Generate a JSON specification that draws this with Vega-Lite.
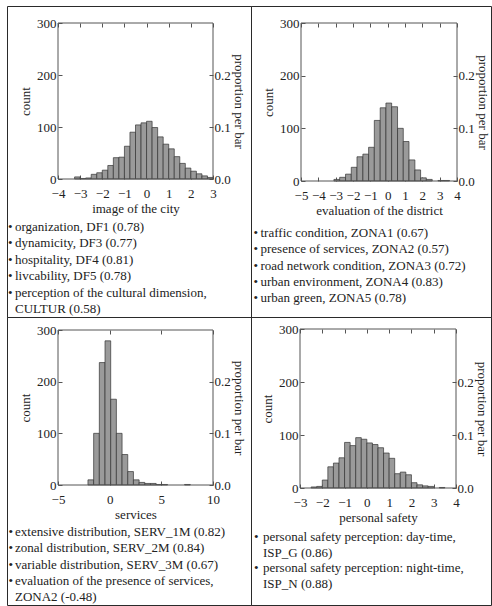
{
  "$schema": "https://vega.github.io/schema/vega-lite/v6.json",
  "background": "white",
  "padding": {"left": 6, "top": 5, "right": 0, "bottom": 0},
  "columns": 2,
  "spacing": 0,
  "bounds": "flush",
  "config": {
    "view": {"stroke": "#2a2a2a", "strokeWidth": 1},
    "axis": {"domain": false, "grid": false, "labelFlush": false, "labelOverlap": false, "labelFont": "Liberation Serif", "labelFontSize": 13, "labelColor": "#222", "titleFont": "Liberation Serif", "titleFontSize": 13, "titleFontWeight": "normal", "titleColor": "#222", "tickColor": "#555", "tickWidth": 1}
  },
  "concat": [
    {
      "width": 244, "height": 311,
      "layer": [
        {
          "data": {"values": [
            {"line": 0, "indent": 0, "text": "•"}, {"line": 0, "indent": 1, "text": "organization, DF1 (0.78)"},
            {"line": 1, "indent": 0, "text": "•"}, {"line": 1, "indent": 1, "text": "dynamicity, DF3 (0.77)"},
            {"line": 2, "indent": 0, "text": "•"}, {"line": 2, "indent": 1, "text": "hospitality, DF4 (0.81)"},
            {"line": 3, "indent": 0, "text": "•"}, {"line": 3, "indent": 1, "text": "livcability, DF5 (0.78)"},
            {"line": 4, "indent": 0, "text": "•"}, {"line": 4, "indent": 1, "text": "perception of the cultural dimension,"},
            {"line": 5, "indent": 1, "text": "CULTUR (0.58)"}
          ]},
          "mark": {"type": "text", "align": "left", "baseline": "middle", "font": "Liberation Serif", "fontSize": 13, "color": "#222"},
          "encoding": {
            "x": {"field": "indent", "type": "quantitative", "scale": {"domain": [0, 1], "range": [1, 8]}, "axis": null},
            "y": {"field": "line", "type": "quantitative", "scale": {"domain": [0, 5], "range": [221, 303]}, "axis": null},
            "text": {"field": "text", "type": "nominal"}
          }
        },
        {
          "data": {"values": [
            {"x0": -3.25, "x1": -3.0, "count": 4}, {"x0": -3.0, "x1": -2.75, "count": 1}, {"x0": -2.75, "x1": -2.5, "count": 2},
            {"x0": -2.5, "x1": -2.25, "count": 9}, {"x0": -2.25, "x1": -2.0, "count": 12}, {"x0": -2.0, "x1": -1.75, "count": 17},
            {"x0": -1.75, "x1": -1.5, "count": 26}, {"x0": -1.5, "x1": -1.25, "count": 41}, {"x0": -1.25, "x1": -1.0, "count": 42},
            {"x0": -1.0, "x1": -0.75, "count": 63}, {"x0": -0.75, "x1": -0.5, "count": 90}, {"x0": -0.5, "x1": -0.25, "count": 104},
            {"x0": -0.25, "x1": 0.0, "count": 108}, {"x0": 0.0, "x1": 0.25, "count": 111}, {"x0": 0.25, "x1": 0.5, "count": 99},
            {"x0": 0.5, "x1": 0.75, "count": 81}, {"x0": 0.75, "x1": 1.0, "count": 67}, {"x0": 1.0, "x1": 1.25, "count": 58},
            {"x0": 1.25, "x1": 1.5, "count": 43}, {"x0": 1.5, "x1": 1.75, "count": 30}, {"x0": 1.75, "x1": 2.0, "count": 21},
            {"x0": 2.0, "x1": 2.25, "count": 15}, {"x0": 2.25, "x1": 2.5, "count": 10}, {"x0": 2.5, "x1": 2.75, "count": 6},
            {"x0": 2.75, "x1": 3.0, "count": 3}
          ]},
          "mark": {"type": "rect", "fill": "#9a9a9a", "stroke": "#333", "strokeWidth": 0.7},
          "encoding": {
            "x": {"field": "x0", "type": "quantitative", "scale": {"domain": [-4, 3], "range": [51, 206]},
                  "axis": {"orient": "bottom", "offset": -138, "values": [-4, -3, -2, -1, 0, 1, 2, 3], "title": "image of the city", "tickSize": -4, "labelPadding": 12, "titlePadding": 2}},
            "x2": {"field": "x1"},
            "y": {"field": "count", "type": "quantitative", "scale": {"domain": [0, 300], "range": [173, 17]},
                  "axis": {"orient": "left", "offset": -51, "values": [0, 100, 200, 300], "title": "count", "tickSize": -4, "labelPadding": 6, "titlePadding": 4}},
            "y2": {"datum": 0}
          }
        },
        {
          "data": {"values": [{}]},
          "mark": {"type": "rect", "fillOpacity": 0, "stroke": "#555", "strokeWidth": 1},
          "encoding": {
            "x": {"datum": -4, "type": "quantitative", "scale": {"domain": [-4, 3], "range": [51, 206]},
                  "axis": {"orient": "top", "offset": -17, "values": [-4, -3, -2, -1, 0, 1, 2, 3], "labels": false, "title": null, "tickSize": -4}},
            "x2": {"datum": 3},
            "y": {"datum": 0, "type": "quantitative", "scale": {"domain": [0, 300], "range": [173, 17]},
                  "axis": {"orient": "right", "offset": -38, "values": [0, 100, 200], "labelExpr": "format(datum.value / 1000, '.1f')", "title": "proportion per bar", "titleAngle": 90, "tickSize": -4, "labelPadding": 5, "titlePadding": 1}},
            "y2": {"datum": 300}
          }
        }
      ],
      "resolve": {"scale": {"x": "independent", "y": "independent"}}
    },
    {
      "width": 240, "height": 311,
      "layer": [
        {
          "data": {"values": [
            {"line": 0, "indent": 0, "text": "•"}, {"line": 0, "indent": 1, "text": "traffic condition, ZONA1 (0.67)"},
            {"line": 1, "indent": 0, "text": "•"}, {"line": 1, "indent": 1, "text": "presence of services, ZONA2 (0.57)"},
            {"line": 2, "indent": 0, "text": "•"}, {"line": 2, "indent": 1, "text": "road network condition, ZONA3 (0.72)"},
            {"line": 3, "indent": 0, "text": "•"}, {"line": 3, "indent": 1, "text": "urban environment, ZONA4 (0.83)"},
            {"line": 4, "indent": 0, "text": "•"}, {"line": 4, "indent": 1, "text": "urban green, ZONA5 (0.78)"}
          ]},
          "mark": {"type": "text", "align": "left", "baseline": "middle", "font": "Liberation Serif", "fontSize": 13, "color": "#222"},
          "encoding": {
            "x": {"field": "indent", "type": "quantitative", "scale": {"domain": [0, 1], "range": [2.5, 9.5]}, "axis": null},
            "y": {"field": "line", "type": "quantitative", "scale": {"domain": [0, 4], "range": [227, 292]}, "axis": null},
            "text": {"field": "text", "type": "nominal"}
          }
        },
        {
          "data": {"values": [
            {"x0": -3.1, "x1": -2.77, "count": 3}, {"x0": -2.77, "x1": -2.43, "count": 7}, {"x0": -2.43, "x1": -2.1, "count": 13},
            {"x0": -2.1, "x1": -1.77, "count": 26}, {"x0": -1.77, "x1": -1.43, "count": 46}, {"x0": -1.43, "x1": -1.1, "count": 51},
            {"x0": -1.1, "x1": -0.77, "count": 64}, {"x0": -0.77, "x1": -0.43, "count": 115}, {"x0": -0.43, "x1": -0.1, "count": 139},
            {"x0": -0.1, "x1": 0.23, "count": 148}, {"x0": 0.23, "x1": 0.57, "count": 141}, {"x0": 0.57, "x1": 0.9, "count": 100},
            {"x0": 0.9, "x1": 1.23, "count": 75}, {"x0": 1.23, "x1": 1.57, "count": 40}, {"x0": 1.57, "x1": 1.9, "count": 21},
            {"x0": 1.9, "x1": 2.23, "count": 6}, {"x0": 2.23, "x1": 2.57, "count": 3}, {"x0": 2.9, "x1": 3.23, "count": 1},
            {"x0": 3.23, "x1": 3.57, "count": 1}
          ]},
          "mark": {"type": "rect", "fill": "#9a9a9a", "stroke": "#333", "strokeWidth": 0.7},
          "encoding": {
            "x": {"field": "x0", "type": "quantitative", "scale": {"domain": [-5, 4], "range": [50, 206]},
                  "axis": {"orient": "bottom", "offset": -136, "values": [-5, -4, -3, -2, -1, 0, 1, 2, 3, 4], "title": "evaluation of the district", "tickSize": -4, "labelPadding": 12, "titlePadding": 2}},
            "x2": {"field": "x1"},
            "y": {"field": "count", "type": "quantitative", "scale": {"domain": [0, 300], "range": [175, 17]},
                  "axis": {"orient": "left", "offset": -50, "values": [0, 100, 200, 300], "title": "count", "tickSize": -4, "labelPadding": 6, "titlePadding": 4}},
            "y2": {"datum": 0}
          }
        },
        {
          "data": {"values": [{}]},
          "mark": {"type": "rect", "fillOpacity": 0, "stroke": "#555", "strokeWidth": 1},
          "encoding": {
            "x": {"datum": -5, "type": "quantitative", "scale": {"domain": [-5, 4], "range": [50, 206]},
                  "axis": {"orient": "top", "offset": -17, "values": [-5, -4, -3, -2, -1, 0, 1, 2, 3, 4], "labels": false, "title": null, "tickSize": -4}},
            "x2": {"datum": 4},
            "y": {"datum": 0, "type": "quantitative", "scale": {"domain": [0, 300], "range": [175, 17]},
                  "axis": {"orient": "right", "offset": -34, "values": [0, 100, 200], "labelExpr": "format(datum.value / 1000, '.1f')", "title": "proportion per bar", "titleAngle": 90, "tickSize": -4, "labelPadding": 5, "titlePadding": 1}},
            "y2": {"datum": 300}
          }
        }
      ],
      "resolve": {"scale": {"x": "independent", "y": "independent"}}
    },
    {
      "width": 244, "height": 288,
      "layer": [
        {
          "data": {"values": [
            {"line": 0, "indent": 0, "text": "•"}, {"line": 0, "indent": 1, "text": "extensive distribution, SERV_1M (0.82)"},
            {"line": 1, "indent": 0, "text": "•"}, {"line": 1, "indent": 1, "text": "zonal distribution, SERV_2M (0.84)"},
            {"line": 2, "indent": 0, "text": "•"}, {"line": 2, "indent": 1, "text": "variable distribution, SERV_3M (0.67)"},
            {"line": 3, "indent": 0, "text": "•"}, {"line": 3, "indent": 1, "text": "evaluation of the presence of services,"},
            {"line": 4, "indent": 1, "text": "ZONA2 (-0.48)"}
          ]},
          "mark": {"type": "text", "align": "left", "baseline": "middle", "font": "Liberation Serif", "fontSize": 13, "color": "#222"},
          "encoding": {
            "x": {"field": "indent", "type": "quantitative", "scale": {"domain": [0, 1], "range": [1.5, 8]}, "axis": null},
            "y": {"field": "line", "type": "quantitative", "scale": {"domain": [0, 4], "range": [215, 280]}, "axis": null},
            "text": {"field": "text", "type": "nominal"}
          }
        },
        {
          "data": {"values": [
            {"x0": -2.1, "x1": -1.55, "count": 10}, {"x0": -1.55, "x1": -1.0, "count": 100}, {"x0": -1.0, "x1": -0.45, "count": 237},
            {"x0": -0.45, "x1": 0.1, "count": 279}, {"x0": 0.1, "x1": 0.65, "count": 166}, {"x0": 0.65, "x1": 1.2, "count": 100},
            {"x0": 1.2, "x1": 1.75, "count": 59}, {"x0": 1.75, "x1": 2.3, "count": 26}, {"x0": 2.3, "x1": 2.85, "count": 10},
            {"x0": 2.85, "x1": 3.4, "count": 5}, {"x0": 3.4, "x1": 3.95, "count": 3}, {"x0": 3.95, "x1": 4.5, "count": 3},
            {"x0": 4.5, "x1": 5.05, "count": 1}, {"x0": 5.05, "x1": 5.6, "count": 1}, {"x0": 7.25, "x1": 7.8, "count": 1}
          ]},
          "mark": {"type": "rect", "fill": "#9a9a9a", "stroke": "#333", "strokeWidth": 0.7},
          "encoding": {
            "x": {"field": "x0", "type": "quantitative", "scale": {"domain": [-5, 10], "range": [51, 206]},
                  "axis": {"orient": "bottom", "offset": -120, "values": [-5, 0, 5, 10], "title": "services", "tickSize": -4, "labelPadding": 12, "titlePadding": 2}},
            "x2": {"field": "x1"},
            "y": {"field": "count", "type": "quantitative", "scale": {"domain": [0, 300], "range": [168, 13]},
                  "axis": {"orient": "left", "offset": -51, "values": [0, 100, 200, 300], "title": "count", "tickSize": -4, "labelPadding": 6, "titlePadding": 4}},
            "y2": {"datum": 0}
          }
        },
        {
          "data": {"values": [{}]},
          "mark": {"type": "rect", "fillOpacity": 0, "stroke": "#555", "strokeWidth": 1},
          "encoding": {
            "x": {"datum": -5, "type": "quantitative", "scale": {"domain": [-5, 10], "range": [51, 206]},
                  "axis": {"orient": "top", "offset": -13, "values": [-5, 0, 5, 10], "labels": false, "title": null, "tickSize": -4}},
            "x2": {"datum": 10},
            "y": {"datum": 0, "type": "quantitative", "scale": {"domain": [0, 300], "range": [168, 13]},
                  "axis": {"orient": "right", "offset": -38, "values": [0, 100, 200], "labelExpr": "format(datum.value / 1000, '.1f')", "title": "proportion per bar", "titleAngle": 90, "tickSize": -4, "labelPadding": 5, "titlePadding": 1}},
            "y2": {"datum": 300}
          }
        }
      ],
      "resolve": {"scale": {"x": "independent", "y": "independent"}}
    },
    {
      "width": 240, "height": 288,
      "layer": [
        {
          "data": {"values": [
            {"line": 0, "indent": 0, "text": "•"}, {"line": 0, "indent": 1, "text": "personal safety perception: day-time,"},
            {"line": 1, "indent": 1, "text": "ISP_G (0.86)"},
            {"line": 2, "indent": 0, "text": "•"}, {"line": 2, "indent": 1, "text": "personal safety perception: night-time,"},
            {"line": 3, "indent": 1, "text": "ISP_N (0.88)"}
          ]},
          "mark": {"type": "text", "align": "left", "baseline": "middle", "font": "Liberation Serif", "fontSize": 13, "color": "#222"},
          "encoding": {
            "x": {"field": "indent", "type": "quantitative", "scale": {"domain": [0, 1], "range": [3, 12]}, "axis": null},
            "y": {"field": "line", "type": "quantitative", "scale": {"domain": [0, 3], "range": [220, 267]}, "axis": null},
            "text": {"field": "text", "type": "nominal"}
          }
        },
        {
          "data": {"values": [
            {"x0": -2.5, "x1": -2.25, "count": 2}, {"x0": -2.25, "x1": -2.0, "count": 3}, {"x0": -2.0, "x1": -1.75, "count": 15},
            {"x0": -1.75, "x1": -1.5, "count": 40}, {"x0": -1.5, "x1": -1.25, "count": 47}, {"x0": -1.25, "x1": -1.0, "count": 57},
            {"x0": -1.0, "x1": -0.75, "count": 86}, {"x0": -0.75, "x1": -0.5, "count": 80}, {"x0": -0.5, "x1": -0.25, "count": 95},
            {"x0": -0.25, "x1": 0.0, "count": 92}, {"x0": 0.0, "x1": 0.25, "count": 85}, {"x0": 0.25, "x1": 0.5, "count": 82},
            {"x0": 0.5, "x1": 0.75, "count": 76}, {"x0": 0.75, "x1": 1.0, "count": 66}, {"x0": 1.0, "x1": 1.25, "count": 56},
            {"x0": 1.25, "x1": 1.5, "count": 27}, {"x0": 1.5, "x1": 1.75, "count": 30}, {"x0": 1.75, "x1": 2.0, "count": 25},
            {"x0": 2.0, "x1": 2.25, "count": 10}, {"x0": 2.25, "x1": 2.5, "count": 6}, {"x0": 2.5, "x1": 2.75, "count": 4},
            {"x0": 2.75, "x1": 3.0, "count": 3}, {"x0": 3.25, "x1": 3.5, "count": 1}
          ]},
          "mark": {"type": "rect", "fill": "#9a9a9a", "stroke": "#333", "strokeWidth": 0.7},
          "encoding": {
            "x": {"field": "x0", "type": "quantitative", "scale": {"domain": [-3, 4], "range": [49, 205]},
                  "axis": {"orient": "bottom", "offset": -117, "values": [-3, -2, -1, 0, 1, 2, 3, 4], "title": "personal safety", "tickSize": -4, "labelPadding": 12, "titlePadding": 2}},
            "x2": {"field": "x1"},
            "y": {"field": "count", "type": "quantitative", "scale": {"domain": [0, 300], "range": [171, 12]},
                  "axis": {"orient": "left", "offset": -49, "values": [0, 100, 200, 300], "title": "count", "tickSize": -4, "labelPadding": 6, "titlePadding": 4}},
            "y2": {"datum": 0}
          }
        },
        {
          "data": {"values": [{}]},
          "mark": {"type": "rect", "fillOpacity": 0, "stroke": "#555", "strokeWidth": 1},
          "encoding": {
            "x": {"datum": -3, "type": "quantitative", "scale": {"domain": [-3, 4], "range": [49, 205]},
                  "axis": {"orient": "top", "offset": -12, "values": [-3, -2, -1, 0, 1, 2, 3, 4], "labels": false, "title": null, "tickSize": -4}},
            "x2": {"datum": 4},
            "y": {"datum": 0, "type": "quantitative", "scale": {"domain": [0, 300], "range": [171, 12]},
                  "axis": {"orient": "right", "offset": -35, "values": [0, 100, 200], "labelExpr": "format(datum.value / 1000, '.1f')", "title": "proportion per bar", "titleAngle": 90, "tickSize": -4, "labelPadding": 5, "titlePadding": 1}},
            "y2": {"datum": 300}
          }
        }
      ],
      "resolve": {"scale": {"x": "independent", "y": "independent"}}
    }
  ]
}
